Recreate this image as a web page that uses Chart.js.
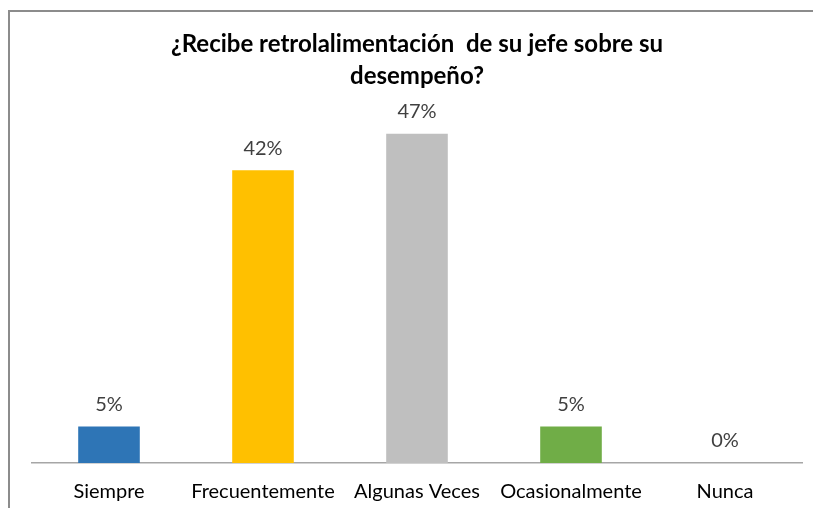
<!DOCTYPE html>
<html>
<head>
<meta charset="utf-8">
<script src="https://cdn.jsdelivr.net/npm/chart.js@4/dist/chart.umd.min.js"></script>
<style>
  html, body { margin: 0; padding: 0; background: #fff; }
  #wrap { position: relative; width: 813px; height: 508px; overflow: hidden; }
  #frame { position: absolute; left: 8px; top: 10px; width: 900px; height: 600px;
           border-left: 2px solid #8c8c8c; border-top: 2px solid #8c8c8c; box-sizing: border-box; }
  canvas { position: absolute; left: 0; top: 0; }
</style>
</head>
<body>
<div id="wrap">
  <div id="frame"></div>
  <canvas id="c" width="813" height="508"></canvas>
</div>
<script>
const titleLines = ["¿Recibe retrolalimentación  de su jefe sobre su", "desempeño?"];
const categories = ["Siempre", "Frecuentemente", "Algunas Veces", "Ocasionalmente", "Nunca"];
const counts = [1, 8, 9, 1, 0];
const total = 19;
const values = counts.map(c => c / total);
const barColors = ["#2E75B6", "#FFC000", "#BFBFBF", "#70AD47", "#2E5E8F"];

const labelPlugin = {
  id: 'valueLabels',
  afterDatasetsDraw(chart) {
    const ctx = chart.ctx;
    const meta = chart.getDatasetMeta(0);
    ctx.save();
    ctx.font = '20px Lato, "Open Sans", sans-serif';
    ctx.fillStyle = '#404040';
    ctx.textAlign = 'center';
    ctx.textBaseline = 'middle';
    meta.data.forEach((bar, i) => {
      ctx.fillText(Math.round(values[i] * 100) + '%', bar.x, bar.y - 22);
    });
    ctx.restore();
  }
};

new Chart(document.getElementById('c'), {
  type: 'bar',
  data: {
    labels: categories,
    datasets: [{
      data: values,
      backgroundColor: barColors,
      borderWidth: 0,
      barPercentage: 0.5,
      categoryPercentage: 0.8
    }]
  },
  options: {
    responsive: false,
    animation: false,
    layout: { padding: { left: 32, right: 11, top: 0, bottom: 6 } },
    plugins: {
      legend: { display: false },
      tooltip: { enabled: false },
      title: {
        display: true,
        text: titleLines,
        color: '#000',
        font: { family: 'Lato, "Open Sans", sans-serif', size: 24, weight: 'bold', lineHeight: 1.3 },
        padding: { top: 29, bottom: 24 }
      }
    },
    scales: {
      y: { display: false, min: 0, max: 0.5 },
      x: {
        afterFit(scale) { scale.height = 39; },
        grid: { display: false, drawTicks: false },
        border: { display: true, color: '#a6a6a6', width: 1.5 },
        ticks: { color: '#000', padding: 17, maxRotation: 0, autoSkip: false,
                 font: { family: 'Lato, "Open Sans", sans-serif', size: 20 } }
      }
    }
  },
  plugins: [labelPlugin]
});
</script>
</body>
</html>
